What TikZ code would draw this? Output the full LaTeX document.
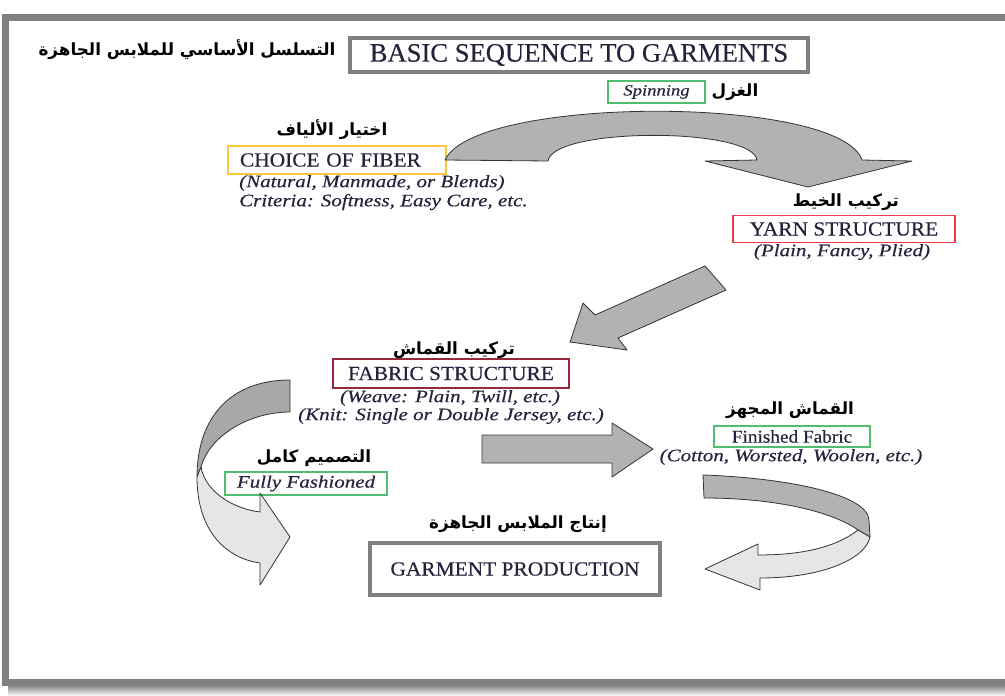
\documentclass[tikz,border=0pt]{standalone}
\usepackage{fontspec}
\setmainfont{Liberation Serif}
\newfontfamily\upf[FakeStretch=1.07,FakeBold=0.35]{Liberation Serif}
\newfontfamily\itf[FakeStretch=1.2,FakeBold=0.35]{Liberation Serif}
\newfontfamily\ttlf[FakeBold=0.3]{Liberation Serif}
\newfontfamily\arabicfont[Script=Arabic]{DejaVu Sans}
\TeXXeTstate=1
\definecolor{txt}{RGB}{35,35,60}
\definecolor{frame}{RGB}{128,128,128}
\definecolor{adark}{RGB}{178,178,178}
\definecolor{amid}{RGB}{168,168,168}
\definecolor{alight}{RGB}{230,230,230}
\definecolor{cyel}{RGB}{255,200,60}
\definecolor{cgrn}{RGB}{80,190,110}
\definecolor{cred}{RGB}{230,60,70}
\definecolor{cdred}{RGB}{150,40,60}
\tikzset{
  lbl/.style={font=\upf\fontsize{20}{24}\selectfont, text=txt, inner sep=0pt},
  itl/.style={font=\itf\itshape\fontsize{17.5}{21}\selectfont, text=txt, inner sep=0pt},
  ar/.style={font=\arabicfont\bfseries\fontsize{16.8}{20}\selectfont, text=black, inner sep=0pt},
  cbox/.style={draw=#1, line width=1.5pt, inner sep=0pt},
  blk/.style={fill=adark, draw=black!80, line width=0.8pt, line join=round},
  blkmid/.style={fill=amid, draw=black!80, line width=0.8pt, line join=round},
  blklight/.style={fill=alight, draw=black!80, line width=0.8pt, line join=round},
}
\begin{document}
\begin{tikzpicture}[x=1pt,y=-1pt]
\useasboundingbox (0,0) rectangle (1005,696);
\clip (0,0) rectangle (1005,696);
% frame and shadow
\shade[top color=black!45, bottom color=white] (8,686) rectangle (1005,696);
\draw[frame, line width=7pt] (5,17) rectangle (1030,682);

% title
\node[ar] (arTitle) at (187,50) {\beginR التسلسل الأساسي للملابس الجاهزة\endR};
\node[draw=frame, line width=4pt, minimum width=458pt, minimum height=34pt, inner sep=0pt,
      font=\ttlf\fontsize{26.6}{30}\selectfont, text=txt] (title) at (579,55) {BASIC SEQUENCE TO GARMENTS};

% spinning
\node[cbox=cgrn, minimum width=97pt, minimum height=22pt, font=\itf\itshape\fontsize{15.5}{18}\selectfont, text=txt] (spin) at (656.5,92) {Spinning};
\node[ar] (arSpin) at (735,92) {\beginR الغزل\endR};

% choice of fiber
\node[ar] (arChoice) at (332,130) {\beginR اختيار الألياف\endR};
\node[cbox=cyel, minimum width=218pt, minimum height=28pt, text width=194pt, align=left,
      inner xsep=12pt, lbl] (choice) at (337,160) {CHOICE OF FIBER};
\node[itl, anchor=west] (natural) at (239,183) {(Natural, Manmade, or Blends)};
\node[itl, anchor=west] (criteria) at (239,202) {Criteria: Softness, Easy Care, etc.};

% yarn
\node[ar] (arYarn) at (846,202) {\beginR تركيب الخيط\endR};
\node[cbox=cred, minimum width=222pt, minimum height=27pt, lbl] (yarn) at (844,229) {YARN STRUCTURE};
\node[itl] (plain) at (842,252) {(Plain, Fancy, Plied)};

% fabric
\node[ar] (arFabric) at (454,350) {\beginR تركيب القماش\endR};
\node[cbox=cdred, minimum width=236pt, minimum height=29pt, lbl] (fabric) at (451,373.5) {FABRIC STRUCTURE};
\node[itl] (weave) at (450,398) {(Weave: Plain, Twill, etc.)};
\node[itl] (knit) at (451,416) {(Knit: Single or Double Jersey, etc.)};

% finished
\node[ar] (arFinished) at (790,410) {\beginR القماش المجهز\endR};
\node[cbox=cgrn, minimum width=156pt, minimum height=21pt, lbl, font=\upf\fontsize{18}{21}\selectfont] (finished) at (792,436.5) {Finished Fabric};
\node[itl] (cotton) at (791,457) {(Cotton, Worsted, Woolen, etc.)};

% fully fashioned
\node[ar] (arFully) at (314,458) {\beginR التصميم كامل\endR};
\node[cbox=cgrn, minimum width=162pt, minimum height=23pt, itl] (fully) at (306,483.5) {Fully Fashioned};

% garment
\node[ar] (arGarment) at (518,524) {\beginR إنتاج الملابس الجاهزة\endR};
\node[draw=frame, line width=4.5pt, minimum width=290pt, minimum height=52pt, lbl] (garment) at (515,569) {GARMENT PRODUCTION};

% big curved arrow (spinning)
\path[blk] (445,160) .. controls (475,95) and (840,95) .. (862,160) -- (912,161) -- (808,187) -- (705,161) -- (757,160)
   .. controls (752,127) and (553,127) .. (548,161) -- cycle;

% diagonal arrow
\path[blk] (705,266) -- (726,290) -- (618,338) -- (627,350) -- (570,342) -- (583,303) -- (595,315) -- cycle;

% right arrow
\path[blk] (482,435) -- (612,435) -- (612,423) -- (653,449) -- (612,477) -- (612,463) -- (482,463) -- cycle;

% left curled arrow (fully fashioned)
\path[blkmid] (290,380) .. controls (230,380) and (197,418) .. (197,477) -- (201,467)
   .. controls (210,435) and (250,412) .. (290,412) -- cycle;
\path[blklight] (197,477) .. controls (197,530) and (225,558) .. (260,563) -- (260,585) -- (290,537) -- (260,493) -- (260,512)
   .. controls (230,508) and (205,490) .. (201,467) -- cycle;

% bottom right curled arrow
\path[blk] (703,475) .. controls (790,478) and (868,495) .. (869,520) -- (870,537) -- (858,530)
   .. controls (830,510) and (770,498) .. (704,498) -- cycle;
\path[blklight] (858,530) .. controls (835,548) and (800,555) .. (758,555) -- (758,544) -- (705,569) -- (760,590) -- (760,578)
   .. controls (820,578) and (865,560) .. (870,537) -- cycle;
\end{tikzpicture}
\end{document}
